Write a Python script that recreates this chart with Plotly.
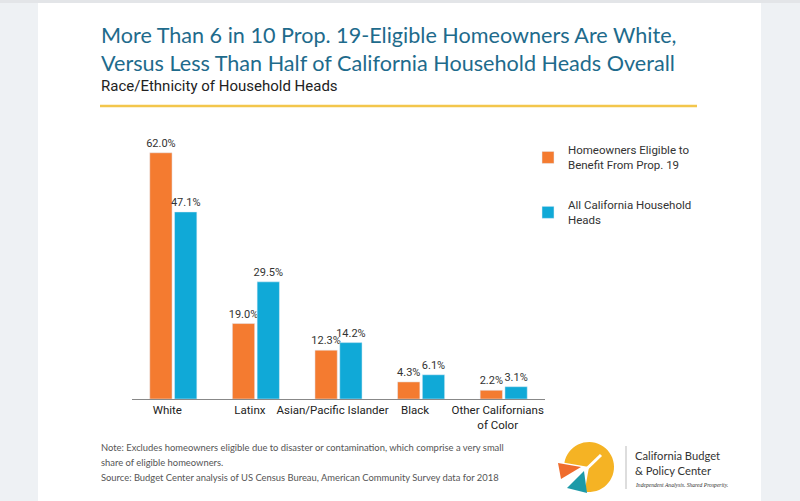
import math

import plotly.graph_objects as go

# ── Data ──────────────────────────────────────────────────────────────────────
categories = ["White", "Latinx", "Asian/Pacific Islander", "Black",
              "Other Californians<br>of Color"]
eligible_homeowners = [62.0, 19.0, 12.3, 4.3, 2.2]
all_household_heads = [47.1, 29.5, 14.2, 6.1, 3.1]

note_lines = [
    "Note: Excludes homeowners eligible due to disaster or contamination, "
    "which comprise a very small",
    "share of eligible homeowners.",
    "Source: Budget Center analysis of US Census Bureau, American "
    "Community Survey data for 2018",
]

ORANGE = "#f47b30"
BLUE = "#10a9d7"
TEAL = "#1e6b8c"
GOLD = "#f3c64c"
NARROW = "Roboto, sans-serif"
SANS = "Lato, Open Sans, sans-serif"

W, H = 800, 501
L, R, T, B = 132, 255, 121, 102
PW, PH = W - L - R, H - T - B


def px(x):
    return (x - L) / PW


def py(y):
    return 1 - (y - T) / PH


def pt(x, y):
    return f"{px(x):.5f},{py(y):.5f}"


def arc_path(cx, cy, r, a0, a1, n=40):
    # angles in degrees, screen coords (y down), clockwise from east
    pts = []
    for i in range(n + 1):
        a = math.radians(a0 + (a1 - a0) * i / n)
        pts.append(pt(cx + r * math.cos(a), cy + r * math.sin(a)))
    return "M " + pt(cx, cy) + " L " + " L ".join(pts) + " Z"


fig = go.Figure()
for vals, name, color, grp in [
    (eligible_homeowners, "Homeowners Eligible to<br>Benefit From Prop. 19", ORANGE, "a"),
    (all_household_heads, "All California Household<br>Heads", BLUE, "b"),
]:
    fig.add_bar(
        x=categories, y=vals, name=name,
        marker_color=color, legendgroup=grp,
        texttemplate="%{y:.1f}%", textposition="outside",
        constraintext="none",
        textfont=dict(family=NARROW, size=11, color="#333"),
        cliponaxis=False,
    )

# logo geometry (page pixels)
LCX, LCY, LR = 589, 467, 25

shapes = [
    # page frame around the white card
    dict(type="rect", x0=px(0), x1=px(38), y0=py(501), y1=py(0),
         fillcolor="#eef1f4", line_width=0, layer="below"),
    dict(type="rect", x0=px(761), x1=px(800), y0=py(501), y1=py(0),
         fillcolor="#eef1f4", line_width=0, layer="below"),
    dict(type="rect", x0=px(0), x1=px(800), y0=py(3), y1=py(0),
         fillcolor="#e3e5e8", line_width=0, layer="below"),
    # gold rule under subtitle
    dict(type="line", x0=px(100), x1=px(697), y0=py(106), y1=py(106),
         line=dict(color=GOLD, width=2.5)),
    # logo
    dict(type="path", path=arc_path(LCX, LCY, LR, -170, 100),
         fillcolor="#f5b324", line_width=0),
    dict(type="line", x0=px(574), y0=py(481), x1=px(601), y1=py(455),
         line=dict(color="white", width=3)),
    dict(type="path",
         path=f"M {pt(558, 463)} L {pt(581, 467)} L {pt(561, 479)} Z",
         fillcolor="#ef6c2d", line_width=0),
    dict(type="path",
         path=f"M {pt(584, 471)} L {pt(587, 493)} L {pt(567, 488)} Z",
         fillcolor="#1d9aa8", line_width=0),
    dict(type="line", x0=px(626), x1=px(626), y0=py(446), y1=py(489),
         line=dict(color="#bbbbbb", width=1)),
]

annotations = [
    dict(text="More Than 6 in 10 Prop. 19-Eligible Homeowners Are White,<br>"
              "Versus Less Than Half of California Household Heads Overall",
         x=px(99), y=py(20), xanchor="left", yanchor="top", align="left",
         font=dict(family=SANS, size=21.6, color=TEAL)),
    dict(text="Race/Ethnicity of Household Heads",
         x=px(99), y=py(75), xanchor="left", yanchor="top", align="left",
         font=dict(family=NARROW, size=15, color="#222")),
    dict(text="California Budget<br>& Policy Center",
         x=px(633), y=py(447), xanchor="left", yanchor="top", align="left",
         font=dict(family=SANS, size=11.2, color="#333")),
    dict(text="<i>Independent Analysis. Shared Prosperity.</i>",
         x=px(633), y=py(480), xanchor="left", yanchor="top", align="left",
         font=dict(family="Liberation Serif, serif", size=5.6, color="#333")),
]
for i, line in enumerate(note_lines):
    annotations.append(
        dict(text=line, x=px(99), y=py(447 + 15 * i), xanchor="left",
             yanchor="middle", align="left",
             font=dict(family=SANS, size=9.4, color="#555")))
for a in annotations:
    a.update(xref="paper", yref="paper", showarrow=False)
for s in shapes:
    s.update(xref="paper", yref="paper")

fig.update_layout(
    width=W, height=H,
    margin=dict(l=L, r=R, t=T, b=B),
    paper_bgcolor="white", plot_bgcolor="white",
    barmode="group", bargap=0.40, bargroupgap=0.1,
    showlegend=True,
    legend=dict(x=px(528), y=py(136), xanchor="left", yanchor="top",
                tracegroupgap=22, font=dict(family=NARROW, size=11.5, color="#333"),
                bgcolor="rgba(0,0,0,0)"),
    xaxis=dict(showline=True, linecolor="#888", linewidth=1, ticks="",
               tickfont=dict(family=NARROW, size=11.5, color="#222"),
               ticklabelshift=-6, fixedrange=True),
    yaxis=dict(range=[0, 70], visible=False, fixedrange=True),
    shapes=shapes, annotations=annotations,
)

fig.write_html("out.html", config={"displayModeBar": False},
               post_script="document.body.style.margin='0';")
